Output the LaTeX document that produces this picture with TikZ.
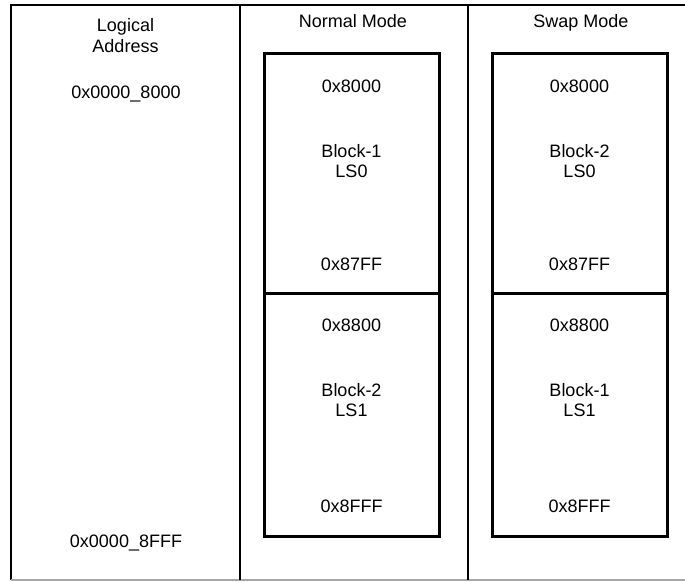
\documentclass[tikz,border=0pt]{standalone}
\usepackage{fontspec}
\setmainfont{Liberation Sans}

\begin{document}
\begin{tikzpicture}[x=1pt,y=-1pt]
\tikzstyle{blk}=[draw,line width=3pt,minimum width=175pt,inner sep=0pt];
\tikzstyle{txt}=[inner sep=0pt,font=\fontsize{18}{20.5}\selectfont];
\tikzstyle{frm}=[line width=2pt];
\useasboundingbox (0,0) rectangle (685,581);
% outer frame and columns
\draw [frm] (11,580) -- (11,5) -- (685,5);
\draw [frm,gray!70] (11,580) -- (685,580);
\draw [frm] (240,5) -- (240,580);
\draw [frm] (468,5) -- (468,580);
% logical address column
\node [txt,align=center] (la) at (125.5,35.5) {Logical\\Address};
\node [txt,anchor=base] (lastart) at (126,98) {0x0000\_8000};
\node [txt,anchor=base] (laend) at (126,547) {0x0000\_8FFF};
% normal mode
\node [txt,anchor=base] (nm) at (353,27) {Normal Mode};
\node [blk,minimum height=240pt] (n0) at (351.5,173) {};
\node [blk,minimum height=243pt] (n1) at (351.5,414.5) {};
\node [txt,anchor=base] (n0a) at (351.5,92) {0x8000};
\node [txt,align=center] (n0b) at (351.5,161) {Block-1\\LS0};
\node [txt,anchor=base] (n0c) at (351.5,270) {0x87FF};
\node [txt,anchor=base] (n1a) at (351.5,331) {0x8800};
\node [txt,align=center] (n1b) at (351.5,400) {Block-2\\LS1};
\node [txt,anchor=base] (n1c) at (351.5,512) {0x8FFF};
% swap mode
\node [txt,anchor=base] (sm) at (581,27) {Swap Mode};
\node [blk,minimum height=240pt] (s0) at (579.5,173) {};
\node [blk,minimum height=243pt] (s1) at (579.5,414.5) {};
\node [txt,anchor=base] (s0a) at (579.5,92) {0x8000};
\node [txt,align=center] (s0b) at (579.5,161) {Block-2\\LS0};
\node [txt,anchor=base] (s0c) at (579.5,270) {0x87FF};
\node [txt,anchor=base] (s1a) at (579.5,331) {0x8800};
\node [txt,align=center] (s1b) at (579.5,400) {Block-1\\LS1};
\node [txt,anchor=base] (s1c) at (579.5,512) {0x8FFF};
\end{tikzpicture}
\end{document}
